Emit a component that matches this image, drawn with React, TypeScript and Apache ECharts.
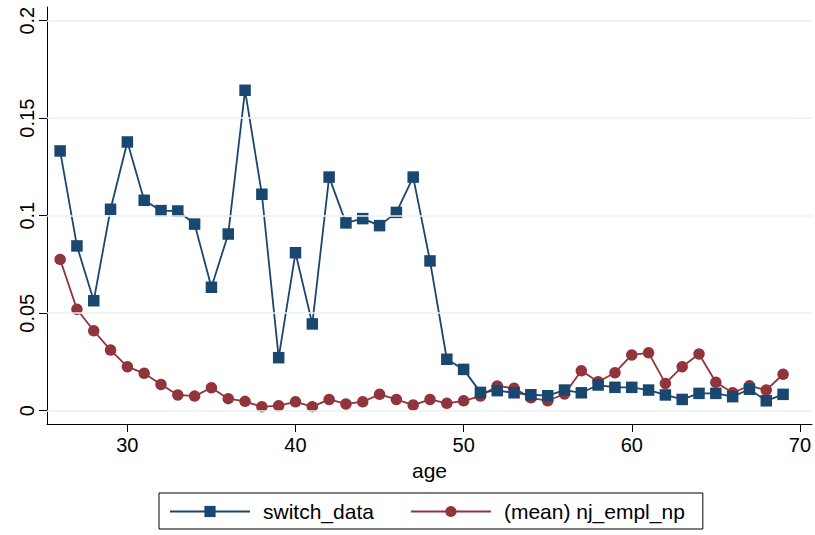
import React, { useEffect, useRef } from "react";
import * as echarts from "echarts";

const ages = [26, 27, 28, 29, 30, 31, 32, 33, 34, 35, 36, 37, 38, 39, 40, 41, 42, 43, 44, 45, 46, 47, 48, 49, 50, 51, 52, 53, 54, 55, 56, 57, 58, 59, 60, 61, 62, 63, 64, 65, 66, 67, 68, 69];
const switchData = [0.1332, 0.0845, 0.0564, 0.1033, 0.1378, 0.1079, 0.1026, 0.1024, 0.0957, 0.0633, 0.0906, 0.1643, 0.111, 0.0272, 0.081, 0.0445, 0.1198, 0.0963, 0.0985, 0.0949, 0.1017, 0.1198, 0.0768, 0.0264, 0.0212, 0.0094, 0.0103, 0.0092, 0.0082, 0.0077, 0.0106, 0.0092, 0.0132, 0.012, 0.012, 0.0106, 0.0081, 0.0058, 0.0089, 0.0089, 0.0072, 0.011, 0.0051, 0.0084];
const njEmplNp = [0.0776, 0.052, 0.041, 0.0311, 0.0226, 0.0192, 0.0135, 0.0081, 0.0075, 0.0118, 0.0062, 0.0048, 0.002, 0.0026, 0.0046, 0.0021, 0.0058, 0.0035, 0.0046, 0.0084, 0.0058, 0.0029, 0.0058, 0.0038, 0.0051, 0.0075, 0.0127, 0.0115, 0.0066, 0.0051, 0.0086, 0.0205, 0.0149, 0.0195, 0.0286, 0.0297, 0.014, 0.0226, 0.0291, 0.0146, 0.0092, 0.0128, 0.0106, 0.0187];
const xTicks = [30, 40, 50, 60, 70];
const yTicks = [0, 0.05, 0.1, 0.15, 0.2];
const seriesNames = ["switch_data", "(mean) nj_empl_np"];

const BLUE = "#1a476f";
const RED = "#90353b";
const FONT = "'Liberation Sans', Arial, Helvetica, sans-serif";

export default function App() {
  const ref = useRef<HTMLDivElement>(null);
  useEffect(() => {
    if (!ref.current) return;
    const chart = echarts.init(ref.current, undefined, { renderer: "svg" });
    chart.setOption({
      animation: false,
      backgroundColor: "#ffffff",
      textStyle: { fontFamily: FONT },
      grid: { left: 47, right: 3, top: 7, bottom: 111, containLabel: false },
      xAxis: {
        type: "value",
        min: 25.22,
        max: 70.72,
        name: "age",
        nameLocation: "middle",
        nameGap: 31,
        nameTextStyle: { fontSize: 21, color: "#000", fontFamily: FONT },
        axisLine: { show: true, onZero: false, lineStyle: { color: "#000", width: 1 } },
        axisTick: { show: true, length: 8, inside: false, customValues: xTicks, lineStyle: { color: "#000" } },
        axisLabel: { customValues: xTicks, fontSize: 20, color: "#000", margin: 11, fontFamily: FONT },
        splitLine: { show: false },
      },
      yAxis: {
        type: "value",
        min: -0.0068,
        max: 0.207,
        axisLine: { show: true, lineStyle: { color: "#000", width: 1 } },
        axisTick: { show: true, length: 8, customValues: yTicks, lineStyle: { color: "#000" } },
        axisLabel: {
          customValues: yTicks,
          rotate: 90,
          fontSize: 20,
          color: "#000",
          margin: 10,
          fontFamily: FONT,
          formatter: (v: number) => String(Math.round(v * 100) / 100),
        },
        splitLine: { show: false },
      },
      legend: {
        left: 159,
        top: 493,
        orient: "horizontal",
        borderColor: "#000",
        borderWidth: 1,
        padding: [8, 18, 7, 10],
        itemWidth: 80,
        itemHeight: 14,
        itemGap: 36,
        textStyle: { fontSize: 21, color: "#000", fontFamily: FONT, padding: [0, 0, 0, 8] },
        data: seriesNames,
      },
      series: [
        {
          type: "line",
          name: "gridlines",
          data: [],
          silent: true,
          z: 1,
          markLine: {
            silent: true,
            symbol: "none",
            label: { show: false },
            lineStyle: { color: "#eaf2f3", width: 1.5, type: "solid" },
            data: yTicks.map((v) => ({ yAxis: v })),
          },
        },
        {
          type: "line",
          name: seriesNames[0],
          z: 3,
          data: ages.map((a, i) => [a, switchData[i]]),
          symbol: "rect",
          symbolSize: 11.5,
          itemStyle: { color: BLUE },
          lineStyle: { color: BLUE, width: 1.8 },
        },
        {
          type: "line",
          name: seriesNames[1],
          z: 2,
          data: ages.map((a, i) => [a, njEmplNp[i]]),
          symbol: "circle",
          symbolSize: 11.5,
          itemStyle: { color: RED },
          lineStyle: { color: RED, width: 1.8 },
        },
      ],
    });
    return () => chart.dispose();
  }, []);
  return (
    <div
      ref={ref}
      style={{ position: "fixed", left: 0, top: 0, width: 815, height: 535, background: "#fff" }}
    />
  );
}
